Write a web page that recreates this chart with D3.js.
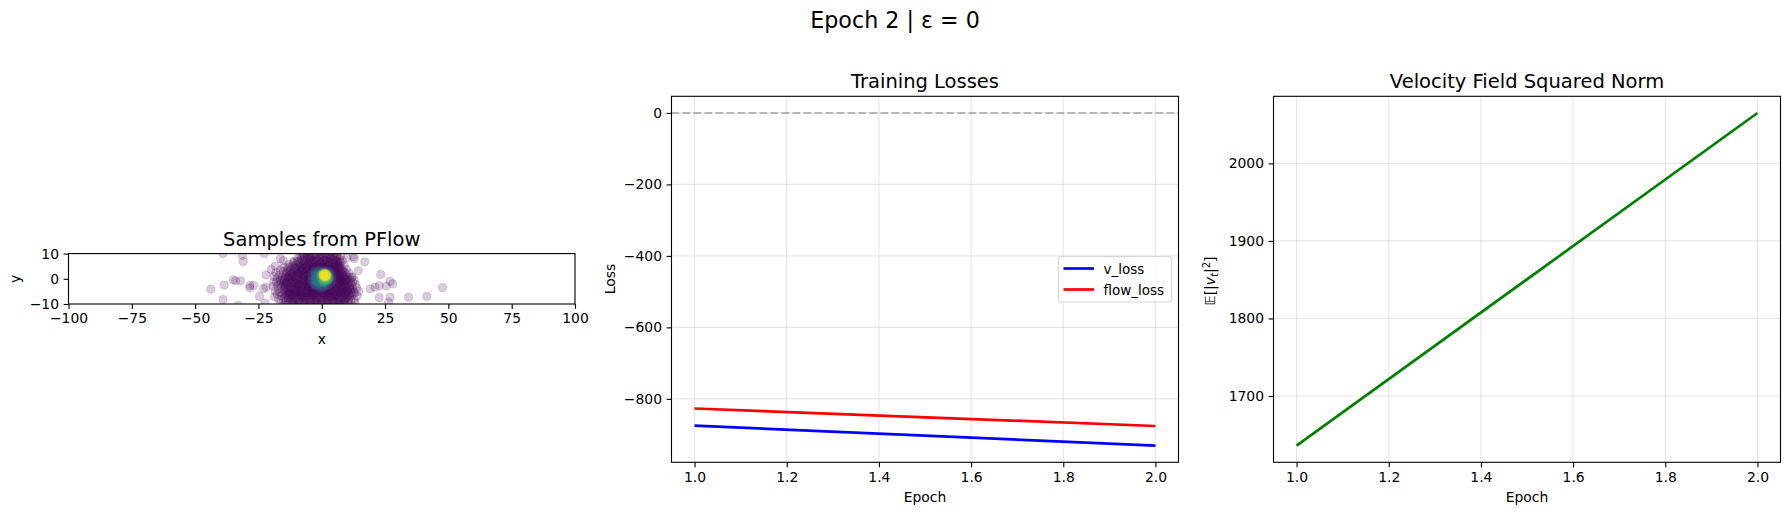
<!DOCTYPE html>
<meta charset="utf-8">

<script src="https://d3js.org/d3.v7.min.js"></script>

<style type="text/css">
  body { margin: 0; background: #fff; }
  text { font-family: "DejaVu Sans", sans-serif; fill: #000; }
  .tick text { font-size: 13.9px; }
  .grid line { stroke: #b0b0b0; stroke-opacity: .3; stroke-width: 1.1; }
</style>

<body>
</body>

<script>

// loss panel
var epochs = [1, 2];
var vLoss = [-875, -931];
var flowLoss = [-827, -876];
var vNorm = [1636, 2065];

var epochTicks = [1.0, 1.2, 1.4, 1.6, 1.8, 2.0];
var lossTicks = [0, -200, -400, -600, -800];
var normTicks = [1700, 1800, 1900, 2000];
var sampleXTicks = [-100, -75, -50, -25, 0, 25, 50, 75, 100];
var sampleYTicks = [-10, 0, 10];

// samples, lowest density first
var sparsePts = [[-43.8,-4.1],[-38.5,-2.5],[-39,-8.3],[-39,10],[-31.3,9.3],[-31,6.9],[-35,-.4],[-34,-.8],[-32,-.8],[-33,-10.5],
  [-28.4,-3.7],[-27,-2.6],[-28.4,-2.7],[-24.6,-7],[-23,-3.9],[-22,-3.3],[-22,1.5],[-22.8,10],[-20,3.7],[-18.3,5],
  [-16.3,8],[-15.2,7.2],[-22.4,-9.6],[-18.6,-7.2],[-11.3,6.4],[-7.5,9],[-4.7,8.8],[6.3,9.7],[7,6.7],[10,8.4],
  [12.4,8.8],[12.8,8],[17,6.7],[14.4,3.2],[12,.8],[23.3,1.7],[19.2,-4],[21,-3.3],[22.7,-2.7],[25.5,-2.9],
  [27,-1],[28,-2],[27,-7.3],[22.7,-7.5],[26.4,-9.3],[34.3,-7.3],[41.5,-7],[47.7,-3.5],[14.6,-5],[13,-5.6],[12.8,-8.3]];

var edgePts = [[-19,-1.2],[-18.8,.9],[-19.2,-3],[-18.4,-4.8],[-18.1,2.4],[-17.6,-6.2],[-17,-8.1],[-16.3,3.6],[-14.9,4.6],[-13,5.7],[-16.2,-9.6],[-15.3,-10.8],
  [-10.8,6.9],[-9.6,8.1],[-8.4,9.2],[-7.6,10.2],[7.4,9],[8.1,7.2],[8.9,5.2],[9.7,3.7],[10.8,2.3],[11.9,.6],[12.8,-.6],[13.3,-2.2],[13.8,-3.6],[14,-6.9],[13.2,-9.5],[12.4,-10.8]];

var outerPts = [
  [-6.2,10.4],[-3.8,10.1],[-1.2,10.6],[1.4,10.2],[3.9,10.5],[5.8,10],
  [-6.6,8.9],[-4.1,9.2],[-2.3,8.7],[.2,9.3],[2.1,8.8],[4.4,9.1],[5.9,8.6],
  [-8.1,7.7],[-5.7,7.9],[-3.2,7.4],[-.9,8],[1.2,7.5],[3.3,7.9],[5.2,7.3],[6.9,7.8],
  [-9.2,6.5],[-7.1,6.8],[-4.8,6.3],[-2.6,6.7],[-.3,6.2],[1.9,6.6],[4.1,6.2],[6.2,6.6],
  [-11.6,5.2],[-9.7,5.6],[-7.9,5.1],[-5.6,5.5],[-3.5,5],[-1.4,5.4],[.8,5],[2.9,5.4],[5,5],[7.2,5.3],
  [-13.4,4],[-11.2,4.3],[-9,3.9],[-6.9,4.2],[-4.7,3.8],[-2.4,4.2],[-.2,3.9],[2.3,4.3],[4.2,3.8],[6.1,4.2],[7.9,3.9],
  [-15.2,2.9],[-13,2.6],[-10.8,3],[-8.6,2.5],[-6.3,2.9],[-4.1,2.5],[-1.9,2.8],[.7,2.4],[3,2.8],[5.1,2.5],[7.3,2.9],[8.9,2.5],
  [-16.7,1.6],[-14.4,1.3],[-12.3,1.7],[-10.1,1.2],[-7.8,1.6],[-5.4,1.2],[-3.3,1.5],[-1,1.1],[1.6,1.4],[3.7,1.1],[5.9,1.5],[8.1,1.2],[9.8,1.6],
  [-17.6,.2],[-15.5,-.1],[-13.2,.3],[-11,-.2],[-8.9,.2],[-6.5,-.2],[-4.4,.1],[-2.1,-.3],[.3,.2],[2.6,-.2],[4.8,.1],[7,-.2],[9.2,.2],[11,-.1],
  [-17.9,-1.3],[-15.8,-1],[-14,-1.5],[-11.7,-1.1],[-9.6,-1.6],[-7.3,-1.2],[-5.1,-1.5],[-2.8,-1.1],[-.6,-1.6],[1.5,-1.2],[3.9,-1.5],[6.1,-1.1],[8.3,-1.5],[10.4,-1.1],[12.2,-1.4],
  [-17.4,-2.7],[-15.1,-2.4],[-12.9,-2.8],[-10.6,-2.5],[-8.2,-2.9],[-6,-2.5],[-3.7,-2.8],[-1.5,-2.4],[.8,-2.8],[3,-2.4],[5.3,-2.8],[7.4,-2.4],[9.5,-2.8],[11.7,-2.5],
  [-17,-4.1],[-14.7,-3.8],[-12.4,-4.2],[-10.2,-3.8],[-7.9,-4.2],[-5.5,-3.9],[-3.3,-4.3],[-1,-3.9],[1.2,-4.2],[3.5,-3.8],[5.7,-4.2],[7.9,-3.8],[10.1,-4.2],[12.3,-3.9],
  [-16.6,-5.4],[-14.2,-5.2],[-12,-5.6],[-9.7,-5.1],[-7.5,-5.5],[-5.2,-5.2],[-2.9,-5.6],[-.7,-5.1],[1.6,-5.5],[3.8,-5.1],[6,-5.5],[8.2,-5.2],[10.5,-5.6],[12.6,-5.2],
  [-15.9,-6.9],[-13.7,-6.6],[-11.4,-7],[-9.1,-6.6],[-6.9,-7],[-4.6,-6.6],[-2.4,-7],[-.1,-6.6],[2.2,-7],[4.4,-6.6],[6.6,-7],[8.9,-6.6],[11.1,-7],
  [-15.2,-8.3],[-13.1,-8],[-10.8,-8.4],[-8.6,-8],[-6.3,-8.4],[-4.1,-8],[-1.8,-8.4],[.5,-8],[2.8,-8.4],[5,-8],[7.2,-8.4],[9.4,-8],[11.5,-8.4],
  [-14.3,-9.7],[-12.1,-9.4],[-9.9,-9.8],[-7.6,-9.4],[-5.4,-9.8],[-3.1,-9.4],[-.9,-9.8],[1.4,-9.4],[3.6,-9.8],[5.9,-9.4],[8.1,-9.8],[10.3,-9.4],
  [-13.2,-11],[-10.7,-10.8],[-8.4,-11.2],[-6.1,-10.9],[-3.6,-11.1],[-1.2,-10.8],[1.1,-11.2],[3.4,-10.9],[5.7,-11.1],[8,-10.8],[10.4,-11]
];

var innerPts = [
  [-4.6,8.2],[-2.4,7.8],[-.4,8.4],[1.8,8],[3.6,8.3],[-6.1,7],[-4,7.2],[-1.7,6.9],[.6,7.1],[2.7,6.8],[4.8,7],
  [-7.4,5.8],[-5.1,6],[-2.9,5.7],[-.8,6],[1.4,5.7],[3.5,6],[5.6,5.8],[-8.6,4.6],[-6.2,4.8],[-4,4.5],[-1.8,4.7],[.4,4.5],[2.6,4.8],[4.8,4.5],[6.6,4.7],
  [-10.2,3.6],[-7.9,3.4],[-5.6,3.6],[-3.4,3.3],[5.8,3.4],[7.7,3.5],[-11.9,2.1],[-9.6,2.2],[-7.2,2],[-5.1,2.2],[4.9,2],[6.9,2.2],[8.4,1.9],
  [-13.1,.8],[-10.8,.9],[-8.4,.7],[-6.1,.9],[-3.8,.6],[4.1,.7],[6.4,.9],[8.6,.6],[-14.7,-.6],[-12.4,-.4],[-10,-.7],[-7.8,-.4],[-5.4,-.7],[5.2,-.6],[7.5,-.4],[9.7,-.7],
  [-14.2,-2],[-11.9,-1.8],[-9.2,-2.1],[-6.9,-1.9],[-4.6,-2.1],[4.2,-2],[6.5,-1.8],[8.7,-2.1],[-13.6,-3.4],[-11.2,-3.2],[-9,-3.5],[-6.7,-3.2],[-4.4,-3.5],[-2.2,-3.2],[2.1,-3.4],[4.3,-3.2],[6.6,-3.5],[8.8,-3.2],[10.9,-3.5],
  [-13.3,-4.8],[-11,-4.6],[-8.8,-4.9],[-6.4,-4.7],[-4.1,-4.9],[-1.9,-4.6],[.4,-4.9],[2.6,-4.6],[4.9,-4.9],[7,-4.6],[9.3,-4.9],[11.4,-4.6],
  [-12.8,-6.1],[-10.5,-5.9],[-8.2,-6.2],[-6,-5.9],[-3.8,-6.2],[-1.5,-5.9],[.8,-6.2],[3,-5.9],[5.2,-6.2],[7.5,-5.9],[9.6,-6.2],
  [-12.2,-7.6],[-9.9,-7.4],[-7.6,-7.7],[-5.3,-7.4],[-3,-7.7],[-.8,-7.4],[1.5,-7.7],[3.7,-7.4],[6,-7.7],[8.2,-7.4],[10.2,-7.7],
  [-11.3,-9],[-8.9,-8.8],[-6.7,-9.1],[-4.5,-8.8],[-2.2,-9.1],[.1,-8.8],[2.3,-9.1],[4.6,-8.8],[6.8,-9.1],[9,-8.8]
];

var densePts = [
  [-5.3,9.6],[-3,9.7],[-.6,9.9],[.9,8.9],[3.1,9.5],[-7.5,7.2],[-5,7.5],[-1.5,7.6],[1.9,7.2],[4.2,7.6],[6,7],
  [-8.7,6.1],[-6.5,5.6],[-4.3,5.7],[-2,5.1],[.2,5.8],[2.2,5.2],[4.3,5.5],[6.4,5.7],[-10.7,4.8],[-8.2,4.5],[-5.8,4.4],[-3.3,4.6],[-1,4.3],[1.3,4.6],[3.5,4.3],[5.6,4.7],[7.2,4.4],
  [-12.3,3.5],[-9.7,3],[-7.3,3.2],[-5,3],[-2.9,3.6],[-.8,3.4],[1.2,3.4],[3.6,3.5],[5.4,3],[6.7,3.4],[8.2,3],
  [-14,2.1],[-11.2,1.8],[-8.9,1.9],[-6.6,1.6],[-4.4,1.9],[4.5,1.6],[6.3,1.7],[7.6,1.4],[9.1,1],
  [-15.6,.7],[-12.5,.1],[-10,.5],[-7.4,.3],[-5.1,.4],[5.5,.5],[7.7,.4],[9.5,-.3],[-16.4,-.6],[-13.4,-.9],[-10.8,-1.3],[-8.5,-.9],[-6.2,-1],[-3.5,-1.6],[3.1,-1.8],[5.7,-1.3],[7.8,-1],[9,-1.2],[11.3,-.8],
  [-16.2,-2],[-13.5,-2.2],[-11.1,-2.1],[-8.9,-2.5],[-6.5,-2.6],[-4.9,-3],[-2.9,-3.3],[-.5,-3.1],[1.5,-3.5],[3.6,-2.7],[5.9,-2.2],[8.1,-2.7],[10.3,-2.2],[11,-2.9],
  [-15.9,-3.2],[-13.8,-4.2],[-11.5,-3.9],[-9.3,-4.3],[-7.2,-3.7],[-5,-4.4],[-2.6,-4.7],[-.2,-4.6],[2,-4.5],[4.6,-3.9],[6.8,-4.1],[9,-3.9],[11.2,-4.2],
  [-15.3,-5.9],[-13,-5.6],[-10.7,-5.3],[-8.5,-5.6],[-6.3,-5.4],[-4,-5.5],[-1.8,-5.4],[.5,-5.6],[2.8,-5.3],[4.9,-5.6],[7.2,-5.3],[9.2,-5.7],[11.5,-5.4],
  [-14.6,-7.4],[-12.5,-6.8],[-10.2,-6.6],[-8,-6.9],[-5.7,-6.8],[-3.5,-6.5],[-1.1,-6.8],[1.1,-6.5],[3.4,-6.8],[5.5,-6.6],[7.8,-6.7],[10,-6.9],[12,-6.4],
  [-14,-8.6],[-11.9,-8.2],[-9.6,-8.1],[-7.4,-8.3],[-5.2,-8.1],[-2.9,-8.3],[-.6,-8.1],[1.7,-8.3],[3.9,-8.2],[6.1,-8.2],[8.3,-8.3],[10.6,-8.1],
  [-13.3,-9.9],[-11,-10],[-8.7,-9.7],[-6.5,-10],[-4.3,-9.8],[-2,-9.7],[.3,-10],[2.5,-9.8],[4.8,-9.6],[7,-9.9],[9.2,-9.7],[-9.5,-11],[-5,-10.8],[-2.4,-11],[.2,-10.9],[2.3,-11],[4.6,-10.9],[6.9,-11],[9.1,-11],
  [-7,9],[-4.4,8.4],[-1.1,9],[2.9,8.5],[5.1,8.4],[-9.5,7],[-6.9,6],[-3.7,6.2],[-1,7],[2.5,6.2],[5.4,6.2],[7.4,6.4],
  [-12.6,4.7],[-10.2,4.1],[-7.6,3.8],[-5.3,4.1],[-3.1,4],[-.6,4.7],[1.7,4],[4.7,3.9],[6.6,2.7],[-13.7,3.1],[-11.6,2.7],[-8,2.8],[-5.7,2.4],[-12.8,1.2],[-9.2,1.4],[-6.9,1.1],[-4.8,.9],[5.2,1],[7.2,1.1],
  [-14.2,.4],[-11.9,.6],[-9.5,-.4],[-7,-.8],[-4.9,-.6],[6.1,.3],[8.4,-.6],[10.1,.7],[-15,-1.6],[-12.7,-1.3],[-10.4,-1.8],[-8,-1.7],[-5.8,-1.9],[4.9,-1.6],[7,-1.4],[9.2,-1.8],
  [-14.5,-3],[-12.1,-3.3],[-9.8,-3],[-7.6,-2.5],[-5.4,-3.4],[-3.8,-3.7],[-1.5,-3.7],[.7,-4],[2.9,-3.3],[5.4,-3.4],[7.6,-3.1],[9.8,-3.4],[-14.9,-4.7],[-12.7,-4.9],[-10.4,-4.5],[-8.1,-4.8],[-5.9,-4.6],[-3.4,-5],[-1,-4.8],[1.3,-4.9],[3.5,-4.5],[5.9,-4.9],[8,-4.5],[10.3,-4.9],
  [-14,-6.3],[-11.7,-6.4],[-9.4,-6],[-7.1,-6.3],[-4.9,-6.1],[-2.6,-6.3],[-.2,-5.9],[2.1,-6.2],[4.2,-5.9],[6.5,-6.1],[8.6,-5.9],[10.8,-6.2],[-13.2,-7.6],[-10.9,-7.7],[-8.7,-7.3],[-6.4,-7.6],[-4.2,-7.3],[-1.9,-7.6],[.4,-7.3],[2.6,-7.6],[4.8,-7.3],[7.1,-7.6],[9.3,-7.3]
];

var bluePts = [[-3,3],[-1.6,3.4],[.2,3.5],[1.9,3.3],[3.4,2.7],[-3.9,1.6],[-3.8,.2],[-3.9,-.9],[-3.4,-2],[-2.6,-2.9],[-1.4,-3.4],[-.2,-3.8],[1,-3.4],[2.3,-2.7],
  [3.5,-1.8],[4,-.6],[4,.8],[-3,2.2],[-2.9,-.8],[-2.6,-2.3],[-1,-2.8],[.7,-2.8],[2.1,-2.2],[3.1,-.9],[3.5,.3],[3.3,1.8],[-2,2.8],[-.5,2.9],[1.5,2.9],[-.6,-3.3],[.3,-3.2],[-1.8,-2.8]];

var tealPts = [[-2.7,1.6],[-2.5,.5],[-2.7,-.5],[-2.2,-1.4],[-1.4,-2],[-.3,-2.2],[.9,-2.1],[-1.9,2.3],[-1,2.5],[-1.5,.9],[-1.9,-.6],[-1.1,-1.2],[-.5,-1.6],[.4,-1.7],
  [-1.1,1.8],[-1,.2],[1.6,-1.7],[-2.4,-.9],[-2,1.2],[-1.4,-1.6],[-.5,2.1],[-2.2,.1],[-1.6,1.6],[-1.6,-.1]];

var greenPts = [[-.1,1.8],[-.2,.7],[.1,-.3],[.9,-1],[1.9,-.9],[2.6,-.1],[2.8,.9],[2.5,1.9],[1.5,2.5],[.5,2.5],[.5,-1.2],[1.5,-.3],[2.3,-.4],[.4,1.2],[2.2,1.2],[-.2,1.2],[1.2,-.6],[2.9,.2],[2,-.1]];

var yellowPts = [[.5,2.1],[1.1,2.2],[1.8,2.1],[.6,1.5],[1.3,1.6],[2,1.5],[.7,1],[1.2,1.1],[1.8,.9],[1,.5],[1.6,.5],[.9,1.9],[1.5,1.3],[1.1,1.4],[1.4,1.9],[.4,1.6],[2.1,1.1],[1.2,.8],[.8,1.3],[1.7,1.7]];

var pointBands = [sparsePts, edgePts, outerPts, innerPts, densePts, bluePts, tealPts, greenPts, yellowPts];
var bandDensity = [0, 0, 0, 0, .02, .28, .42, .72, .98];

var svg = d3.select("body").append("svg")
    .attr("width", 1790)
    .attr("height", 515);

function addAxes(box, xScale, yScale, xTicks, yTicks, xFormat, yFormat, grid) {
  var g = svg.append("g").attr("transform", "translate(" + box.left + "," + box.top + ")");

  if (grid) {
    g.append("g").attr("class", "grid").selectAll("line").data(xTicks).enter().append("line")
        .attr("x1", function(d) { return xScale(d); }).attr("x2", function(d) { return xScale(d); })
        .attr("y1", 0).attr("y2", box.height);
    g.append("g").attr("class", "grid").selectAll("line").data(yTicks).enter().append("line")
        .attr("y1", function(d) { return yScale(d); }).attr("y2", function(d) { return yScale(d); })
        .attr("x1", 0).attr("x2", box.width);
  }

  g.append("g")
      .attr("class", "x-axis")
      .attr("transform", "translate(0," + box.height + ")")
      .call(d3.axisBottom(xScale).tickValues(xTicks).tickFormat(xFormat).tickSizeOuter(0).tickSize(4.9).tickPadding(4.6))
      .call(cleanAxis);
  g.append("g")
      .attr("class", "y-axis")
      .call(d3.axisLeft(yScale).tickValues(yTicks).tickFormat(yFormat).tickSizeOuter(0).tickSize(4.9).tickPadding(4.6))
      .call(cleanAxis);
  return g;
}

function cleanAxis(sel) {
  sel.select(".domain").remove();
  sel.selectAll(".tick line").attr("stroke", "#000").attr("stroke-width", 1.1);
}

function addFrame(g, box) {
  g.append("rect")
      .attr("width", box.width)
      .attr("height", box.height)
      .attr("fill", "none")
      .attr("stroke", "#000")
      .attr("stroke-width", 1.1);
}

function addLine(g, xScale, yScale, values, color) {
  var line = d3.line()
      .x(function(d, i) { return xScale(epochs[i]); })
      .y(function(d) { return yScale(d); });
  g.append("path")
      .datum(values)
      .attr("d", line)
      .attr("fill", "none")
      .attr("stroke", color)
      .attr("stroke-width", 2.7);
}

function addLabels(box, title, xLabel) {
  svg.append("text")
      .attr("x", box.left + box.width / 2).attr("y", box.top - 8)
      .attr("text-anchor", "middle").style("font-size", "19.5px")
      .text(title);
  svg.append("text")
      .attr("x", box.left + box.width / 2).attr("y", box.top + box.height + 40)
      .attr("text-anchor", "middle").style("font-size", "13.9px")
      .text(xLabel);
}

function addYLabel(x, y, label) {
  return svg.append("text")
      .attr("transform", "translate(" + x + "," + y + ") rotate(-90)")
      .attr("text-anchor", "middle").style("font-size", "13.9px")
      .text(label);
}

var fmt1 = d3.format(".1f");
var fmt0 = d3.format("d");

svg.append("text")
    .attr("x", 895).attr("y", 28)
    .attr("text-anchor", "middle").style("font-size", "22.2px")
    .text("Epoch 2 | ε = 0");

// samples panel
var box1 = {left: 68.5, top: 253.6, width: 506.5, height: 50.4};
var x1 = d3.scaleLinear().domain([-100, 100]).range([0, box1.width]);
var y1 = d3.scaleLinear().domain([-10, 10]).range([box1.height, 0]);
var g1 = addAxes(box1, x1, y1, sampleXTicks, sampleYTicks, fmt0, fmt0, false);

g1.append("clipPath").attr("id", "samples-clip").append("rect")
    .attr("width", box1.width).attr("height", box1.height);

var bands = g1.append("g").attr("clip-path", "url(#samples-clip)")
  .selectAll("g")
    .data(pointBands)
  .enter().append("g")
    .attr("fill", function(d, i) { return d3.interpolateViridis(bandDensity[i]); })
    .attr("stroke", function(d, i) { return d3.interpolateViridis(bandDensity[i]); });

bands.selectAll("circle")
    .data(function(d) { return d; })
  .enter().append("circle")
    .attr("cx", function(d) { return x1(d[0]); })
    .attr("cy", function(d) { return y1(d[1]); })
    .attr("r", 4.1)
    .attr("fill-opacity", .2)
    .attr("stroke-opacity", .2)
    .attr("stroke-width", .8);

addFrame(g1, box1);
addLabels(box1, "Samples from PFlow", "x");
addYLabel(20, 278.8, "y");

// losses panel
var box2 = {left: 671.5, top: 96.3, width: 507, height: 366};
var x2 = d3.scaleLinear().domain([.95, 2.05]).range([0, box2.width]);
var y2 = d3.scaleLinear().domain([-977.5, 46.5]).range([box2.height, 0]);
var g2 = addAxes(box2, x2, y2, epochTicks, lossTicks, fmt1, fmt0, true);

g2.append("line")
    .attr("x1", 0).attr("x2", box2.width)
    .attr("y1", y2(0)).attr("y2", y2(0))
    .attr("stroke", "#808080").attr("stroke-opacity", .5)
    .attr("stroke-width", 2).attr("stroke-dasharray", "7.7,3.3");
addLine(g2, x2, y2, vLoss, "#0000ff");
addLine(g2, x2, y2, flowLoss, "#ff0000");
addFrame(g2, box2);
addLabels(box2, "Training Losses", "Epoch");
addYLabel(615, 279, "Loss");

// legend
var legendNames = ["v_loss", "flow_loss"];
var legendColors = ["#0000ff", "#ff0000"];
var legend = svg.append("g").attr("transform", "translate(1058.5,256.5)");
legend.append("rect")
    .attr("width", 113).attr("height", 45.5).attr("rx", 2.5)
    .attr("fill", "#fff").attr("fill-opacity", .8)
    .attr("stroke", "#ccc").attr("stroke-opacity", .8).attr("stroke-width", 1.1);
var rows = legend.selectAll(".row").data(legendNames).enter().append("g")
    .attr("class", "row")
    .attr("transform", function(d, i) { return "translate(0," + (12 + i * 21) + ")"; });
rows.append("line")
    .attr("x1", 5).attr("x2", 35.5)
    .attr("stroke", function(d, i) { return legendColors[i]; })
    .attr("stroke-width", 2.7);
rows.append("text")
    .attr("x", 45).attr("y", 5).style("font-size", "13.5px")
    .text(function(d) { return d; });

// velocity norm panel
var box3 = {left: 1273.5, top: 96.3, width: 507, height: 366};
var x3 = d3.scaleLinear().domain([.95, 2.05]).range([0, box3.width]);
var y3 = d3.scaleLinear().domain([1614.5, 2086.5]).range([box3.height, 0]);
var g3 = addAxes(box3, x3, y3, epochTicks, normTicks, fmt1, fmt0, true);
addLine(g3, x3, y3, vNorm, "#008000");
addFrame(g3, box3);
addLabels(box3, "Velocity Field Squared Norm", "Epoch");

var normLabel = addYLabel(1215, 281, "");
normLabel.append("tspan").text("𝔼[|");
normLabel.append("tspan").style("font-style", "italic").text("v");
normLabel.append("tspan").attr("dy", 3).style("font-size", "10px").style("font-style", "italic").text("t");
normLabel.append("tspan").attr("dy", -3).text("|");
normLabel.append("tspan").attr("dy", -5).style("font-size", "10px").text("2");
normLabel.append("tspan").attr("dy", 5).text("]");

</script>
